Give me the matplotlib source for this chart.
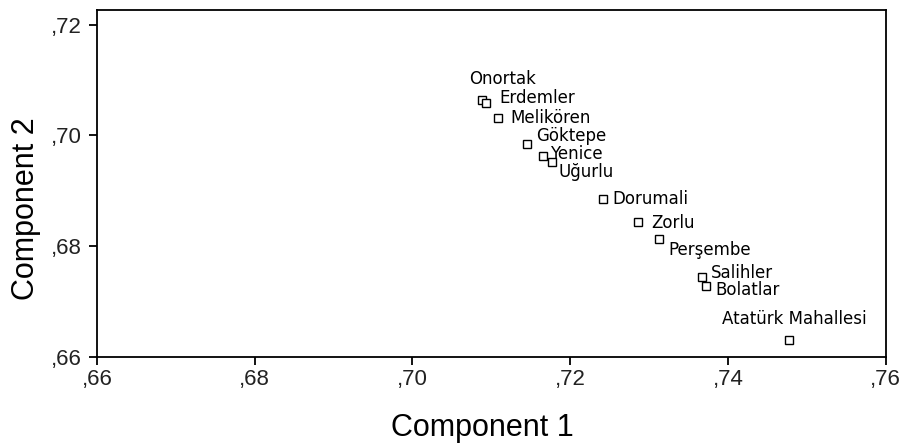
import matplotlib
matplotlib.use("Agg")
import matplotlib.pyplot as plt
from matplotlib.ticker import FuncFormatter

names = ["Onortak", "Erdemler", "Melikören", "Göktepe", "Yenice", "Uğurlu",
         "Dorumali", "Zorlu", "Perşembe", "Salihler", "Bolatlar", "Atatürk Mahallesi"]
comp1 = [0.7088, 0.7093, 0.7108, 0.7145, 0.7165, 0.7177,
         0.7242, 0.7286, 0.7313, 0.7367, 0.7372, 0.7477]
comp2 = [0.7064, 0.7058, 0.7032, 0.6985, 0.6962, 0.6952,
         0.6885, 0.6843, 0.6813, 0.6744, 0.6728, 0.6629]
xticks = [0.66, 0.68, 0.70, 0.72, 0.74, 0.76]
yticks = [0.66, 0.68, 0.70, 0.72]

# label offsets in pixels (layout only)
label_offsets = [(-13, 15.6), (14, 0), (13, -5.7), (9, 2.6), (7, -2.7), (6.5, -15.4),
                 (9.5, -5.4), (13.5, -6.1), (9, -16.4), (9, -1.0), (9, -9.0), (-66.5, 16.3)]

fig = plt.figure(figsize=(9.01, 4.47), dpi=100)
ax = fig.add_axes([97 / 901, 90.5 / 447, 788.7 / 901, 346.5 / 447])

ax.plot(comp1, comp2, linestyle="none", marker="s", markersize=6,
        markerfacecolor="white", markeredgecolor="black", markeredgewidth=1.0)

for n, x, y, (dx, dy) in zip(names, comp1, comp2, label_offsets):
    ax.annotate(n, (x, y), xytext=(dx, dy), textcoords="offset pixels",
                ha="left", va="baseline", fontsize=12, family="DejaVu Sans",
                color="black")

ax.set_xlim(0.66, 0.76)
ax.set_ylim(0.66, 0.7227)
ax.set_xticks(xticks)
ax.set_yticks(yticks)
fmt = FuncFormatter(lambda v, p: ("%.2f" % v).replace("0.", ","))
ax.xaxis.set_major_formatter(fmt)
ax.yaxis.set_major_formatter(fmt)
ax.tick_params(direction="out", length=6, width=1.3, labelsize=16, colors="black",
               labelcolor="#222222")
ax.tick_params(axis="x", pad=3)
ax.tick_params(axis="y", pad=5)
for lbl in ax.get_xticklabels() + ax.get_yticklabels():
    lbl.set_family("Liberation Sans")
for s in ax.spines.values():
    s.set_linewidth(1.3)

ax.set_xlabel("Component 1", fontsize=22, family="Liberation Sans", va="baseline")
ax.set_ylabel("Component 2", fontsize=22, family="Liberation Sans", va="baseline")
ax.xaxis.set_label_coords(0.4883, -0.2305)
ax.yaxis.set_label_coords(-0.0793, 0.428)

fig.savefig("out.png", dpi=100, facecolor="white")
